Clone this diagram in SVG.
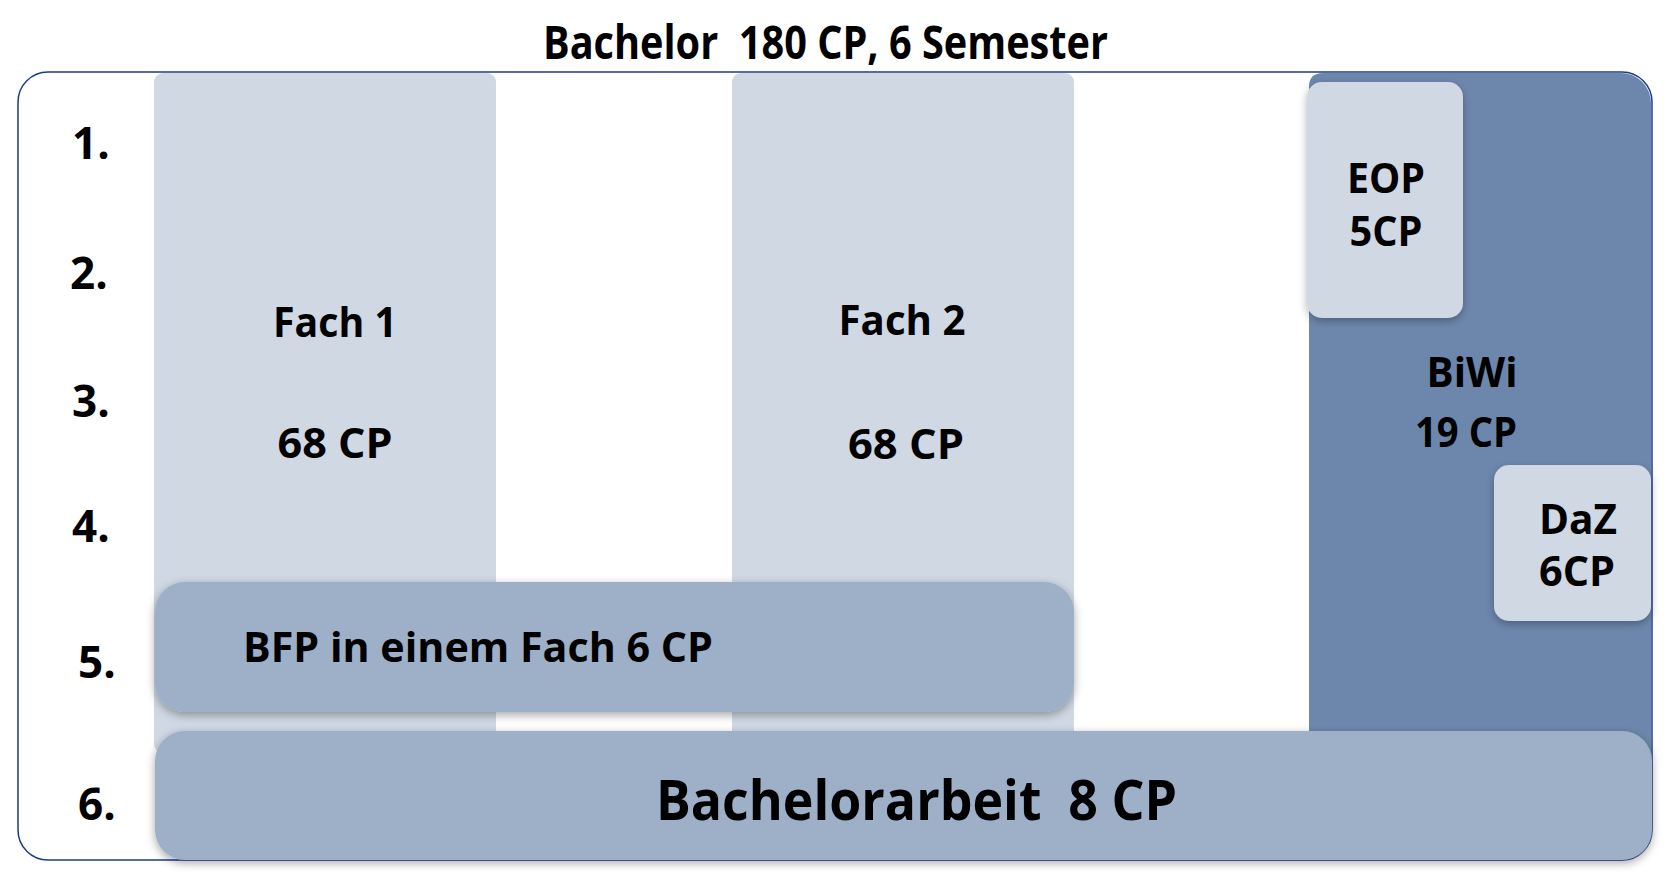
<svg xmlns="http://www.w3.org/2000/svg" width="1678" height="878" viewBox="0 0 1678 878">
<style>
text{font-family:"Open Sans","Liberation Sans",sans-serif;font-weight:700;fill:#000;white-space:pre}
.t42{font-size:42px}
.num{font-size:44px}
.light{fill:#cfd8e3}
.bar{fill:#9eafc8}
.biwi{fill:#6d87ac}
.mid{text-anchor:middle}
</style>
<defs>
<filter id="sh" x="-10%" y="-20%" width="120%" height="150%">
<feDropShadow dx="0" dy="3" stdDeviation="5" flood-color="#000" flood-opacity="0.35"/>
</filter>
<filter id="sh2" x="-20%" y="-20%" width="140%" height="140%">
<feDropShadow dx="0" dy="3" stdDeviation="4" flood-color="#000" flood-opacity="0.3"/>
</filter>
</defs>
<rect width="1678" height="878" fill="#fff"/>
<g id="title">
<text x="543" y="59" style="font-size:46px" textLength="565" lengthAdjust="spacingAndGlyphs">Bachelor  180 CP, 6 Semester</text>
</g>
<g id="frame">
<rect x="18" y="72" width="1634" height="788" rx="30" fill="#fff" stroke="#1b3b8b" stroke-width="1.5"/>
</g>
<g id="semesters" class="num">
<text x="72" y="159" class="num">1.</text>
<text x="70" y="289" class="num">2.</text>
<text x="72" y="417" class="num">3.</text>
<text x="72" y="542" class="num">4.</text>
<text x="78" y="678" class="num">5.</text>
<text x="78" y="820" class="num">6.</text>
</g>
<g id="fach1">
<rect x="154" y="73" width="342" height="680" rx="9" class="light"/>
<text x="335" y="337" class="t42 mid" textLength="124" lengthAdjust="spacingAndGlyphs">Fach 1</text>
<text x="335" y="458" class="t42 mid" textLength="115" lengthAdjust="spacingAndGlyphs">68 CP</text>
</g>
<g id="fach2">
<rect x="732" y="73" width="342" height="680" rx="9" class="light"/>
<text x="902" y="335" class="t42 mid" textLength="127" lengthAdjust="spacingAndGlyphs">Fach 2</text>
<text x="906" y="459" class="t42 mid" textLength="116" lengthAdjust="spacingAndGlyphs">68 CP</text>
</g>
<g id="biwi">
<path d="M1309,760 V87 Q1309,73 1323,73 H1621 A30,30 0 0 1 1651,103 V760 Z" class="biwi"/>
<text x="1472" y="387" class="t42 mid" textLength="91" lengthAdjust="spacingAndGlyphs">BiWi</text>
<text x="1466" y="447" class="t42 mid" textLength="102" lengthAdjust="spacingAndGlyphs">19 CP</text>
</g>
<g id="eop">
<rect x="1307" y="82" width="156" height="236" rx="15" class="light" filter="url(#sh2)"/>
<text x="1386" y="193" class="t42 mid" textLength="78" lengthAdjust="spacingAndGlyphs">EOP</text>
<text x="1386" y="246" class="t42 mid" textLength="73" lengthAdjust="spacingAndGlyphs">5CP</text>
</g>
<g id="daz">
<rect x="1494" y="465" width="157" height="156" rx="15" class="light" filter="url(#sh2)"/>
<text x="1578" y="534" class="t42 mid" textLength="78" lengthAdjust="spacingAndGlyphs">DaZ</text>
<text x="1577" y="586" class="t42 mid" textLength="76" lengthAdjust="spacingAndGlyphs">6CP</text>
</g>
<g id="bfp">
<rect x="155" y="582" width="919" height="130" rx="30" class="bar" filter="url(#sh)"/>
<text x="243" y="662" class="t42" textLength="470" lengthAdjust="spacingAndGlyphs">BFP in einem Fach 6 CP</text>
</g>
<g id="bachelorarbeit">
<rect x="155" y="731" width="1497" height="129" rx="30" class="bar" filter="url(#sh)"/>
<text x="656" y="820" style="font-size:55px" textLength="521" lengthAdjust="spacingAndGlyphs">Bachelorarbeit  8 CP</text>
</g>
<g id="connectors"/>
</svg>
